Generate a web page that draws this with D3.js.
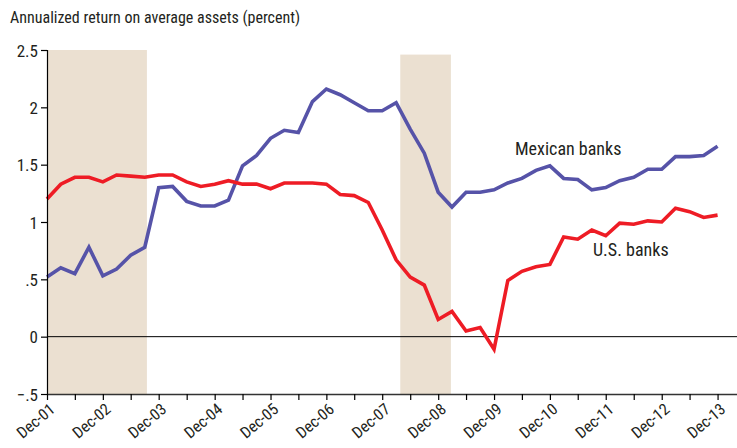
<!DOCTYPE html>
<html>
<head>
<meta charset="utf-8">
<script src="https://cdn.jsdelivr.net/npm/d3@7/dist/d3.min.js"></script>
<style>
  html, body { margin: 0; padding: 0; background: #fff; }
  svg { display: block; }
  text { font-family: "Liberation Sans Narrow", "Arial Narrow", "Roboto Condensed", sans-serif; fill: #231f20; }
</style>
</head>
<body>
<svg id="chart" width="737" height="448"></svg>
<script>
// ---- Data (quarterly, Dec-01 .. Dec-13) ----
const startQuarter = "2001-12-01";
const mexicanBanks = [
  0.52, 0.60, 0.55, 0.78, 0.53, 0.59, 0.71, 0.78,
  1.30, 1.31, 1.18, 1.14, 1.14, 1.19, 1.49, 1.58,
  1.73, 1.80, 1.78, 2.05, 2.16, 2.11, 2.04, 1.97,
  1.97, 2.04, 1.81, 1.60, 1.26, 1.13, 1.26, 1.26,
  1.28, 1.34, 1.38, 1.45, 1.49, 1.38, 1.37, 1.28,
  1.30, 1.36, 1.39, 1.46, 1.46, 1.57, 1.57, 1.58, 1.66
];
const usBanks = [
  1.20, 1.33, 1.39, 1.39, 1.35, 1.41, 1.40, 1.39,
  1.41, 1.41, 1.35, 1.31, 1.33, 1.36, 1.33, 1.33,
  1.29, 1.34, 1.34, 1.34, 1.33, 1.24, 1.23, 1.17,
  0.93, 0.67, 0.52, 0.45, 0.15, 0.22, 0.05, 0.08,
  -0.11, 0.49, 0.57, 0.61, 0.63, 0.87, 0.85, 0.93,
  0.88, 0.99, 0.98, 1.01, 1.00, 1.12, 1.09, 1.04, 1.06
];
const recessionStarts = ["2001-03-01", "2008-03-28"];
const recessionEnds   = ["2003-09-15", "2009-02-22"];
const recessionTops   = [2.5, 2.46];
const yTickValues = [-0.5, 0, 0.5, 1, 1.5, 2, 2.5];
const yTickLabels = ["\u2212.5", "0", ".5", "1", "1.5", "2", "2.5"];
const xLabelMonths = "Dec";
const titleText = "Annualized return on average assets (percent)";
const seriesNames = ["Mexican banks", "U.S. banks"];
const seriesColors = ["#5653a8", "#ee1c25"];

// ---- Layout ----
const svg = d3.select("#chart");
const mLeft = 47, mRight = 737, mTop = 50, mBottom = 394;
const parse = d3.utcParse("%Y-%m-%d");
const t0 = parse(startQuarter);
const dates = mexicanBanks.map((_, i) => d3.utcMonth.offset(t0, 3 * i));

const x = d3.scaleUtc()
  .domain([t0, d3.utcDay.offset(d3.utcMonth.offset(t0, 148), 6)])
  .range([mLeft, mRight]);
const y = d3.scaleLinear().domain([-0.5, 2.5]).range([mBottom, mTop]);

// Title
svg.append("text")
  .attr("x", 10).attr("y", 23)
  .attr("font-size", 16)
  .text(titleText);

// Recession shading
const shadeG = svg.append("g");
recessionStarts.forEach((s, i) => {
  const x0 = Math.max(mLeft, x(parse(s)));
  const x1 = x(parse(recessionEnds[i]));
  shadeG.append("rect")
    .attr("x", x0).attr("y", y(recessionTops[i]))
    .attr("width", x1 - x0)
    .attr("height", y(-0.5) - y(recessionTops[i]))
    .attr("fill", "#ebe0d1");
});

// Zero line
svg.append("line")
  .attr("x1", mLeft).attr("x2", mRight)
  .attr("y1", y(0)).attr("y2", y(0))
  .attr("stroke", "#000").attr("stroke-width", 1);

// Lines
const line = d3.line()
  .x((d, i) => x(dates[i]))
  .y(d => y(d));
[mexicanBanks, usBanks].forEach((arr, k) => {
  svg.append("path")
    .datum(arr)
    .attr("d", line)
    .attr("fill", "none")
    .attr("stroke", seriesColors[k])
    .attr("stroke-width", 3.6)
    .attr("stroke-linejoin", "miter")
    .attr("stroke-linecap", "butt");
});

// Y axis
const yAxis = d3.axisLeft(y)
  .tickValues(yTickValues)
  .tickSize(6)
  .tickPadding(3)
  .tickFormat((d, i) => yTickLabels[i]);
const yg = svg.append("g").attr("transform", `translate(${mLeft},0)`).call(yAxis);
yg.select(".domain").attr("stroke", "#000").attr("stroke-width", 1.2);
yg.selectAll(".tick line").attr("stroke", "#000").attr("stroke-width", 1.2);
yg.selectAll(".tick text")
  .attr("font-size", 17)
  .attr("font-family", null)
  .attr("fill", "#231f20")
  .attr("dy", "0.36em");

// X axis (ticks every 6 months starting Dec-01, labels on December)
const xTicks = d3.utcMonth.range(t0, x.domain()[1], 6);
const xAxis = d3.axisBottom(x)
  .tickValues(xTicks)
  .tickSize(6)
  .tickSizeOuter(0)
  .tickFormat("");
const xg = svg.append("g").attr("transform", `translate(0,${mBottom})`).call(xAxis);
xg.select(".domain").attr("stroke", "#333").attr("stroke-width", 1.6);
xg.selectAll(".tick line").attr("stroke", "#000").attr("stroke-width", 1.2);

// Rotated December labels
const labelDates = xTicks.filter(d => d.getUTCMonth() === 11);
svg.append("g").selectAll("text")
  .data(labelDates)
  .join("text")
  .attr("x", d => x(d) + 9)
  .attr("y", mBottom + 17)
  .attr("text-anchor", "end")
  .attr("font-size", 16)
  .attr("transform", d => `rotate(-40 ${x(d) + 9} ${mBottom + 17})`)
  .text(d => xLabelMonths + "-" + d3.utcFormat("%y")(d));

// Series labels
svg.append("text").attr("x", 515).attr("y", 155).attr("font-size", 18).text(seriesNames[0]);
svg.append("text").attr("x", 593).attr("y", 256).attr("font-size", 18).text(seriesNames[1]);
</script>
</body>
</html>
